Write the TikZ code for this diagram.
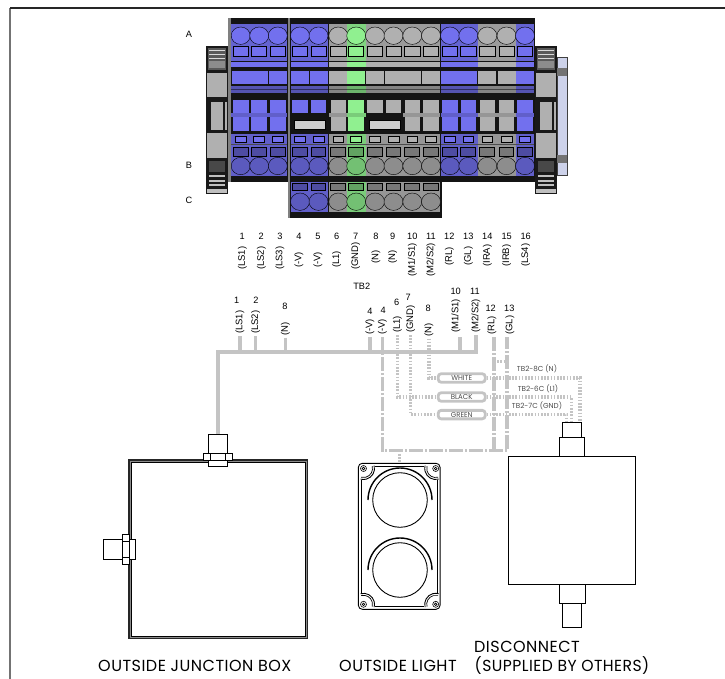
\documentclass[tikz,border=0pt]{standalone}
\usepackage{fontspec}
\setmainfont{Liberation Sans}
\newfontfamily\gothicfont{Poppins}
\newfontfamily\gothicwide[LetterSpace=3]{Poppins}
\definecolor{termBlue}{RGB}{114,112,238}
\definecolor{termGrey}{RGB}{176,176,176}
\definecolor{termGreen}{RGB}{144,240,144}
\definecolor{wireGrey}{RGB}{196,196,196}
\definecolor{railColour}{RGB}{205,210,234}
\definecolor{capColour}{RGB}{72,72,72}
\tikzset{
	wireSolid/.style={draw=wireGrey, line width=3.2pt},
	wireDot/.style={draw=wireGrey, line width=3.2pt, dash pattern=on 1.6pt off 1.6pt},
	wireDash/.style={draw=wireGrey, line width=3.2pt, dash pattern=on 14pt off 2pt on 2pt off 2pt},
	wireBox/.style={draw=wireGrey, line width=2.8pt, fill=white, rounded corners=3pt, minimum width=47pt, minimum height=8.5pt, inner sep=0pt, text=black!70, font=\gothicfont\fontsize{7}{7}\selectfont},
	termNum/.style={font=\fontsize{9.2}{9}\selectfont, inner sep=0pt},
	termLab/.style={font=\fontsize{9.5}{9}\selectfont, rotate=90, anchor=west, inner sep=2pt},
	wireNote/.style={text=black!70, inner sep=0pt, font=\gothicfont\fontsize{7.2}{7}\selectfont},
	bigLabel/.style={inner sep=0pt, font=\gothicwide\fontsize{16}{15}\selectfont},
	device/.style={draw=black, line width=0.9pt, fill=white, inner sep=0pt},
}

\begin{document}
\begin{tikzpicture}[x=1pt, y=-1pt]
	\useasboundingbox (0,0) rectangle (725,679);

	% the page frame
	\draw[black!55, line width=1.2pt] (10,679) -- (10,8);
	\draw[black!85, line width=1.2pt] (10,8) -- (725,8);

	% the rail behind the block
	\draw[draw=black!75, fill=railColour] (557,57) rectangle (567,175);
	\fill[black!55] (557,68) rectangle (567,76);
	\fill[black!55] (557,155) rectangle (567,163);

	% the end pieces
	\foreach \e in {206,535} {
		\begin{scope}[shift={(\e,0)}]
			\fill[black!90] (0,46) rectangle (22,194);
			\fill[black!65] (2,48) rectangle (20,70);
			\foreach \s in {50,54,58} \fill[black!15] (3,\s) rectangle (19,\s+1.5);
			\fill[black!45] (3,61) rectangle (19,68);
			\fill[termGrey] (1,72.7) rectangle (21,97.3);
			\fill[termGrey] (5,102) rectangle (17,130);
			\fill[termGrey] (18.5,102) rectangle (21,130);
			\fill[termGrey] (1,133) rectangle (21,158);
			\fill[capColour] (3,161) rectangle (19,172);
			\foreach \s in {175,180,184} \fill[black!25] (3,\s) rectangle (19,\s+1.6);
			\fill[black!25] (1,189) rectangle (21,193);
		\end{scope}
	}

	% the main body
	\fill[black!92] (228,18) rectangle (535,182);
	\fill[black!92] (288,182) rectangle (442,218);

	% the terminals
	\foreach \x/\c/\slot in {240.7/termBlue/0, 259.2/termBlue/0, 277.8/termBlue/0, 300/termBlue/1, 318.5/termBlue/1,
			338.3/termGrey/0, 356.2/termGreen/0, 375/termGrey/1, 393.5/termGrey/1, 412.3/termGrey/0, 431/termGrey/0,
			450/termBlue/0, 468.3/termBlue/0, 487.3/termGrey/0, 506.5/termGrey/0, 525/termBlue/0} {
		% upper screw and square
		\fill[\c!88!black] (\x-9.3,24) rectangle (\x+9.3,61);
		\draw[black, fill=\c] (\x,35.7) ellipse (9.5 and 8.7);
		\draw[black, fill=\c, line width=0.7pt] (\x-7.6,46.4) rectangle (\x+7.6,56.8);
		\fill[\c] (\x-9.3,61.7) rectangle (\x+9.3,66.7);
		\fill[\c] (\x-9,70.7) rectangle (\x+9,84);
		\fill[\c!75!black] (\x-9.3,86) rectangle (\x+9.3,93.3);
		\fill[\c!40!black] (\x-9.3,89) rectangle (\x+9.3,89.8);
		% middle blocks
		\fill[\c] (\x-7.8,100) rectangle (\x+7.8,113.3);
		\ifnum\slot=0
			\fill[\c!85!black] (\x-9.3,113.3) rectangle (\x+9.3,117.3);
			\fill[\c] (\x-7.8,117.3) rectangle (\x+7.8,130.7);
		\fi
		% lower squares and screw
		\fill[\c!85!black] (\x-9.3,134) rectangle (\x+9.3,176);
		\draw[black, fill=\c, line width=0.7pt] (\x-5.4,136) rectangle (\x+5.4,142);
		\fill[black!70] (\x-9.3,144) rectangle (\x+9.3,145);
		\draw[black, fill=\c!68!black, line width=0.9pt] (\x-7.4,147) rectangle (\x+7.4,156.5);
		\draw[black, fill=\c!80!black] (\x,166) ellipse (9.5 and 8.7);
	}

	% the third row of screws
	\foreach \x/\c in {300/termBlue, 318.5/termBlue, 338.3/termGrey, 356.2/termGreen, 375/termGrey, 393.5/termGrey, 412.3/termGrey, 431/termGrey} {
		\fill[\c!85!black] (\x-9.3,182) rectangle (\x+9.3,212);
		\draw[black, fill=\c!68!black, line width=0.9pt] (\x-7.4,183) rectangle (\x+7.4,190);
		\draw[black, fill=\c!80!black] (\x,201.7) ellipse (9.5 and 8.7);
	}

	% the slots and the dividers
	\draw[black, fill=black!20] (294,120) rectangle (325,129);
	\draw[black, fill=black!20] (369.3,120) rectangle (400,129);
	\fill[black!50] (228,18) rectangle (230.5,182);
	\fill[black!50] (288,18) rectangle (290,218);

	% the row letters
	\node[termNum] (rowA) at (189,34) {A};
	\node[termNum] (rowB) at (189,165) {B};
	\node[termNum] (rowC) at (189,200.7) {C};

	% the upper terminal numbers
	\foreach \x/\n/\t/\b in {242.3/1/(LS1)/270, 261.3/2/(LS2)/270, 280/3/(LS3)/270, 299/4/(-V)/268, 318/5/(-V)/268,
			336.7/6/(L1)/268, 355.7/7/(GND)/270, 376/8/(N)/264, 392.7/9/(N)/264, 412.3/10/{(M1/S1)}/277,
			431/11/{(M2/S2)}/277, 449.3/12/(RL)/266, 468.3/13/(GL)/266, 487.3/14/(IRA)/267, 506.7/15/(IRB)/267, 525.7/16/(LS4)/267} {
		\node[termNum] at (\x,236) {\n};
		\node[termLab] at (\x,\b+2) {\t};
	}
	\node[termNum] (tbTwo) at (361.7,286.7) {TB2};

	% the lower terminal numbers
	\foreach \x/\y/\n in {236.7/300/1, 256/300/2, 285/306.7/8, 370/311/4, 383.3/310/4, 396.7/302.3/6, 408.3/297.7/7,
			428.3/308.3/8, 455.7/291.7/10, 475/291/11, 490.7/308.3/12, 509.3/308.3/13} {
		\node[termNum] at (\x,\y) {\n};
	}

	% the lower terminal labels
	\node[termLab] (lowLSa) at (240,336) {(LS1)};
	\node[termLab] (lowLSb) at (255.7,336) {(LS2)};
	\node[termLab] (lowNa) at (285.5,337.5) {(N)};
	\node[termLab] (lowVa) at (370,337) {(-V)};
	\node[termLab] (lowVb) at (382.5,337) {(-V)};
	\node[termLab] (lowLi) at (397.3,335) {(L1)};
	\node[termLab] (lowGND) at (410.7,335) {(GND)};
	\node[termLab] (lowNb) at (429,338.5) {(N)};
	\node[termLab] (lowMa) at (456,335) {(M1/S1)};
	\node[termLab] (lowMb) at (476,335) {(M2/S2)};
	\node[termLab] (lowRL) at (492,337) {(RL)};
	\node[termLab] (lowGL) at (510,337) {(GL)};

	% the junction box
	\node[device, draw=black!85, line width=1.1pt, fill=black!45, minimum width=178.7pt, minimum height=178.7pt] (jbox) at (218.3,549.3) {};
	\node[device, minimum width=174pt, minimum height=174pt] (jboxIn) at (218.3,549.3) {};
	\node[device, minimum width=19.4pt, minimum height=19pt] (jbTop) at (218,443.8) {};
	\node[device, minimum width=19.4pt, minimum height=6pt] (jbLock) at (218,463) {};
	\node[device, minimum width=29.4pt, minimum height=6.7pt] (jbNut) at (218,456.6) {};
	\draw[black, line width=0.8pt] (210.5,453.3) -- (210.5,460) (225.5,453.3) -- (225.5,460);
	\node[device, minimum width=19pt, minimum height=20pt] (jbSide) at (112.8,549) {};
	\node[device, minimum width=6.3pt, minimum height=20pt] (jbSideLock) at (132.2,549) {};
	\node[device, minimum width=6.7pt, minimum height=30pt] (jbSideNut) at (125.7,549.3) {};
	\draw[black, line width=0.8pt] (122.3,541.5) -- (129,541.5) (122.3,557) -- (129,557);

	% the light
	\node[device, rounded corners=4pt, minimum width=81.7pt, minimum height=146pt] (lightBody) at (399.2,536.3) {};
	\draw[black, line width=0.8pt] (375,466) -- (424,466) (375,606.8) -- (424,606.8);
	\draw[black, line width=0.8pt] (361,480) -- (361,593) (437.5,480) -- (437.5,593);
	\foreach \y in {500,570} {
		\draw[black, line width=0.9pt] (400,\y) circle (27.3);
		\draw[black, line width=1.4pt] (368,\y) arc[start angle=180, end angle=360, radius=32];
	}
	\foreach \cx/\cy/\a in {363.5/468.5/0, 435.7/468.5/90, 435.7/604.3/180, 363.5/604.3/270} {
		\draw[black, line width=0.7pt] (\cx,\cy) circle (1.3);
		\draw[black, line width=0.6pt] (\cx,\cy) circle (3);
		\draw[black, line width=0.9pt] ([shift={({\a-15}:11)}]\cx,\cy) arc[start angle=\a-15, end angle=\a+105, radius=11];
		\draw[black, line width=0.7pt] ([shift={({\a-15}:9)}]\cx,\cy) arc[start angle=\a-15, end angle=\a+105, radius=9];
	}

	% the disconnect
	\node[device, minimum width=127.4pt, minimum height=127.6pt] (discBody) at (572,520.5) {};
	\node[device, minimum width=19pt, minimum height=15pt] (discTop) at (572.2,429.8) {};
	\node[device, minimum width=25pt, minimum height=19.4pt] (discNeck) at (571.8,447) {};
	\node[device, minimum width=25.7pt, minimum height=19pt] (discBase) at (572.1,593.8) {};
	\node[device, minimum width=19.4pt, minimum height=24.4pt] (discEnd) at (572,615.5) {};

	% the junction points
	\coordinate (trunkL) at (218,352);
	\coordinate (trunkR) at (476,352);
	\coordinate (dropL) at (382.5,450.7);
	\coordinate (dropR) at (507,450.7);
	\coordinate (hopL) at (494,361.7);
	\coordinate (hopR) at (507,361.7);
	\coordinate (discWhite) at (580,422);
	\coordinate (discBlack) at (571.7,422);
	\coordinate (discGreen) at (566.7,422);

	% the wires
	\draw[wireSolid] (lowMb.west) -- (trunkR) -- (trunkL) -- (jbTop.north);
	\foreach \w in {lowLSa, lowLSb, lowNa, lowVa}
		\draw[wireSolid] (\w.west) -- (\w.west |- trunkL);
	\draw[wireSolid] (460,337) -- (460,352);
	\draw[wireDash] (lowVb.west) -- (dropL) -- (dropR) -- (507,337);
	\draw[wireDash] (494,337) -- (494,450.7);
	\draw[wireDot] (hopL) -- (hopR);
	\draw[wireDot] (lightBody.north |- dropL) -- (lightBody.north);

	% the wire boxes
	\node[wireBox] (boxWhite) at (461.7,378) {WHITE};
	\node[wireBox] (boxBlack) at (461.7,397) {BLACK};
	\node[wireBox] (boxGreen) at (461.7,414.6) {GREEN};
	\draw[wireDot] (lowNb.west) |- (boxWhite.west);
	\draw[wireDot] (lowLi.west) |- (boxBlack.west);
	\draw[wireDot] (lowGND.west) |- (boxGreen.west);
	\draw[wireDot] (boxWhite.east) -| (discWhite);
	\draw[wireDot] (boxBlack.east) -| (discBlack);
	\draw[wireDot] (boxGreen.east) -| (discGreen);

	% the wire notes
	\node[wireNote] (noteWhite) at (537,369.3) {TB2-8C (N)};
	\node[wireNote] (noteBlack) at (538,389.3) {TB2-6C (L1)};
	\node[wireNote] (noteGreen) at (537,406) {TB2-7C (GND)};

	% the device names
	\node[bigLabel, anchor=west] (nameBox) at (98,665.7) {OUTSIDE JUNCTION BOX};
	\node[bigLabel, anchor=west] (nameLight) at (339,665.7) {OUTSIDE LIGHT};
	\node[bigLabel, anchor=west] (nameDisc) at (474,646.7) {DISCONNECT};
	\node[bigLabel, anchor=west, xscale=0.975] (nameOthers) at (474.5,665.7) {(SUPPLIED BY OTHERS)};
\end{tikzpicture}
\end{document}
